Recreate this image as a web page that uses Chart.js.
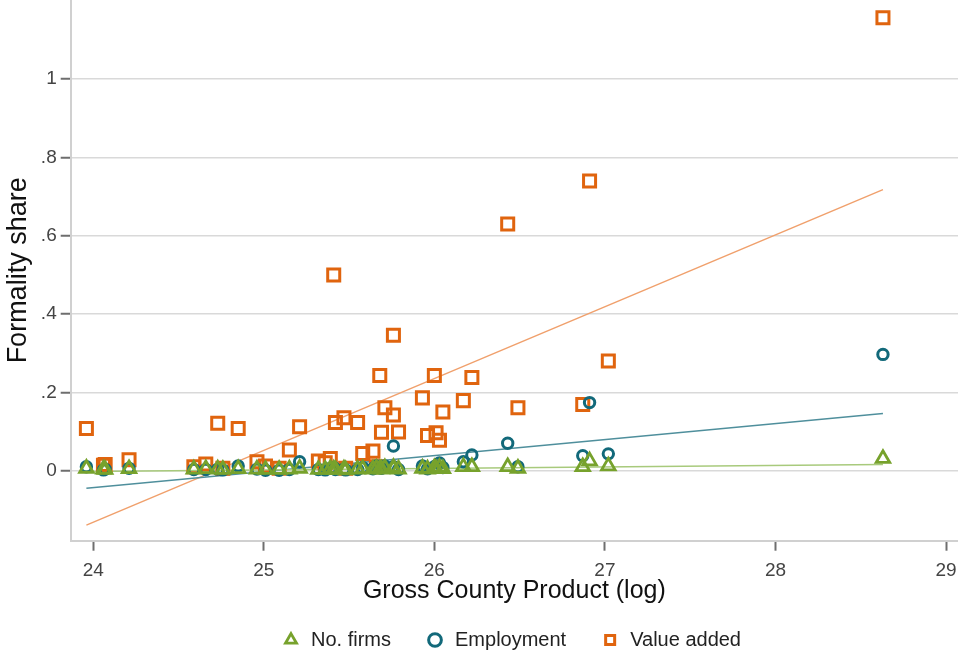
<!DOCTYPE html>
<html>
<head>
<meta charset="utf-8">
<title>Formality share by Gross County Product</title>
<script src="https://cdn.jsdelivr.net/npm/chart.js@4.4.1/dist/chart.umd.min.js"></script>
<style>
  html, body { margin: 0; padding: 0; background: #fff; }
  #wrap { width: 958px; height: 653px; }
</style>
</head>
<body>
<div id="wrap"><canvas id="formalityChart"></canvas></div>
<script>
// log Gross County Product, one entry per county
const gcpLog = [23.96, 24.06, 24.07, 24.21, 24.59, 24.66, 24.73, 24.76, 24.85, 24.96,
  25.01, 25.09, 25.15, 25.21, 25.32, 25.36, 25.39, 25.41, 25.42, 25.47,
  25.48, 25.55, 25.58, 25.64, 25.66, 25.68, 25.69, 25.71, 25.76, 25.76,
  25.79, 25.93, 25.96, 26.00, 26.01, 26.03, 26.05, 26.17, 26.22, 26.43,
  26.49, 26.87, 26.91, 27.02, 28.63];

const firmsShare = [0.006, 0.004, 0.003, 0.005, 0.004, 0.005, 0.004, 0.003, 0.005, 0.004,
  0.003, 0.003, 0.004, 0.006, 0.003, 0.003, 0.005, 0.004, 0.003, 0.004,
  0.002, 0.004, 0.005, 0.004, 0.006, 0.005, 0.004, 0.007, 0.008, 0.005,
  0.004, 0.006, 0.004, 0.007, 0.005, 0.008, 0.005, 0.010, 0.010, 0.010,
  0.006, 0.010, 0.025, 0.012, 0.031];

const employmentShare = [0.010, 0.002, 0.004, 0.006, 0.003, 0.003, 0.004, 0.002, 0.012, 0.004,
  0.001, 0.001, 0.003, 0.023, 0.003, 0.002, 0.006, 0.008, 0.003, 0.004,
  0.002, 0.003, 0.008, 0.005, 0.012, 0.010, 0.006, 0.012, 0.063, 0.010,
  0.003, 0.012, 0.005, 0.010, 0.012, 0.020, 0.008, 0.023, 0.040, 0.070,
  0.010, 0.038, 0.174, 0.043, 0.297];

const valueAddedShare = [0.108, 0.014, 0.016, 0.028, 0.010, 0.017, 0.121, 0.006, 0.108, 0.023,
  0.012, 0.006, 0.053, 0.112, 0.025, 0.020, 0.031, 0.500, 0.123, 0.135,
  0.006, 0.123, 0.044, 0.050, 0.010, 0.243, 0.098, 0.161, 0.346, 0.142,
  0.099, 0.186, 0.090, 0.243, 0.097, 0.078, 0.150, 0.179, 0.238, 0.630,
  0.161, 0.169, 0.740, 0.280, 1.157];

// linear fit lines, read at both ends
const fitX = [23.96, 28.63];
const fitFirms = [-0.002, 0.016];
const fitEmployment = [-0.045, 0.146];
const fitValueAdded = [-0.139, 0.718];

const xTicks = [24, 25, 26, 27, 28, 29];
const yTicks = [0, 0.2, 0.4, 0.6, 0.8, 1];
const yTickLabels = ['0', '.2', '.4', '.6', '.8', '1'];

const green = '#77a22c';
const teal = '#12697a';
const orange = '#e0640e';

function pts(xs, ys) {
  return xs.map((x, i) => ({ x: x, y: ys[i] }));
}

function markers(label, ys, color, style, radius, width) {
  return {
    label: label,
    data: pts(gcpLog, ys),
    showLine: false,
    pointStyle: style,
    pointRadius: radius,
    pointHoverRadius: radius,
    pointBorderWidth: width,
    pointBorderColor: color,
    pointBackgroundColor: 'rgba(0,0,0,0)',
    borderColor: color,
    backgroundColor: 'rgba(0,0,0,0)'
  };
}

function fitLine(ys, color) {
  return {
    label: 'fit',
    data: pts(fitX, ys),
    showLine: true,
    pointRadius: 0,
    borderWidth: 1.5,
    borderColor: color,
    backgroundColor: color
  };
}

// move the legend to where the reference puts it
const nudgeLegend = {
  id: 'nudgeLegend',
  afterLayout(chart) {
    const lg = chart.legend;
    lg.left += 32; lg.right += 32;
    lg.top += 7; lg.bottom += 7;
  }
};

const font = '"Liberation Sans", Arial, sans-serif';

new Chart(document.getElementById('formalityChart'), {
  type: 'scatter',
  data: {
    datasets: [
      markers('No. firms', firmsShare, green, 'triangle', 7.8, 2.8),
      markers('Employment', employmentShare, teal, 'circle', 5.2, 3),
      markers('Value added', valueAddedShare, orange, 'rect', 8.5, 3),
      fitLine(fitFirms, '#a8ca7c'),
      fitLine(fitEmployment, '#4f8f9c'),
      fitLine(fitValueAdded, '#f0a06c')
    ]
  },
  options: {
    responsive: true,
    maintainAspectRatio: false,
    animation: false,
    layout: { padding: 0, autoPadding: false },
    plugins: {
      tooltip: { enabled: false },
      legend: {
        position: 'bottom',
        labels: {
          usePointStyle: true,
          boxHeight: 9,
          padding: 34,
          color: '#222',
          font: { family: font, size: 20 },
          filter: item => item.datasetIndex < 3
        }
      }
    },
    scales: {
      x: {
        type: 'linear',
        min: 23.868,
        max: 29.07,
        afterBuildTicks: scale => { scale.ticks = xTicks.map(v => ({ value: v })); },
        afterFit: scale => {
          scale.height = 48.3;
          scale.paddingLeft = 0;
          scale.paddingRight = 0;
        },
        grid: { drawOnChartArea: false, tickLength: 10, tickColor: '#6e6e6e', tickWidth: 2 },
        border: { color: '#d0d0d0', width: 2 },
        ticks: { color: '#444', padding: 9, font: { family: font, size: 19 }, maxRotation: 0 },
        title: {
          display: true,
          text: 'Gross County Product (log)',
          color: '#111',
          font: { family: font, size: 25 },
          padding: { top: 0, bottom: -17 }
        }
      },
      y: {
        min: -0.1788,
        max: 1.2023,
        afterBuildTicks: scale => { scale.ticks = yTicks.map(v => ({ value: v })); },
        afterFit: scale => {
          scale.width = 70.7;
          scale.paddingTop = 0;
          scale.paddingBottom = 0;
        },
        grid: { color: '#d9d9d9', lineWidth: 1.5, tickLength: 10, tickColor: '#6e6e6e', tickWidth: 2 },
        border: { color: '#d0d0d0', width: 2 },
        ticks: {
          color: '#444',
          padding: 4,
          font: { family: font, size: 19 },
          callback: (v, i) => yTickLabels[i]
        },
        title: {
          display: true,
          text: 'Formality share',
          color: '#111',
          font: { family: font, size: 27 },
          padding: { top: 2, bottom: 0 }
        }
      }
    }
  },
  plugins: [nudgeLegend]
});
</script>
</body>
</html>
